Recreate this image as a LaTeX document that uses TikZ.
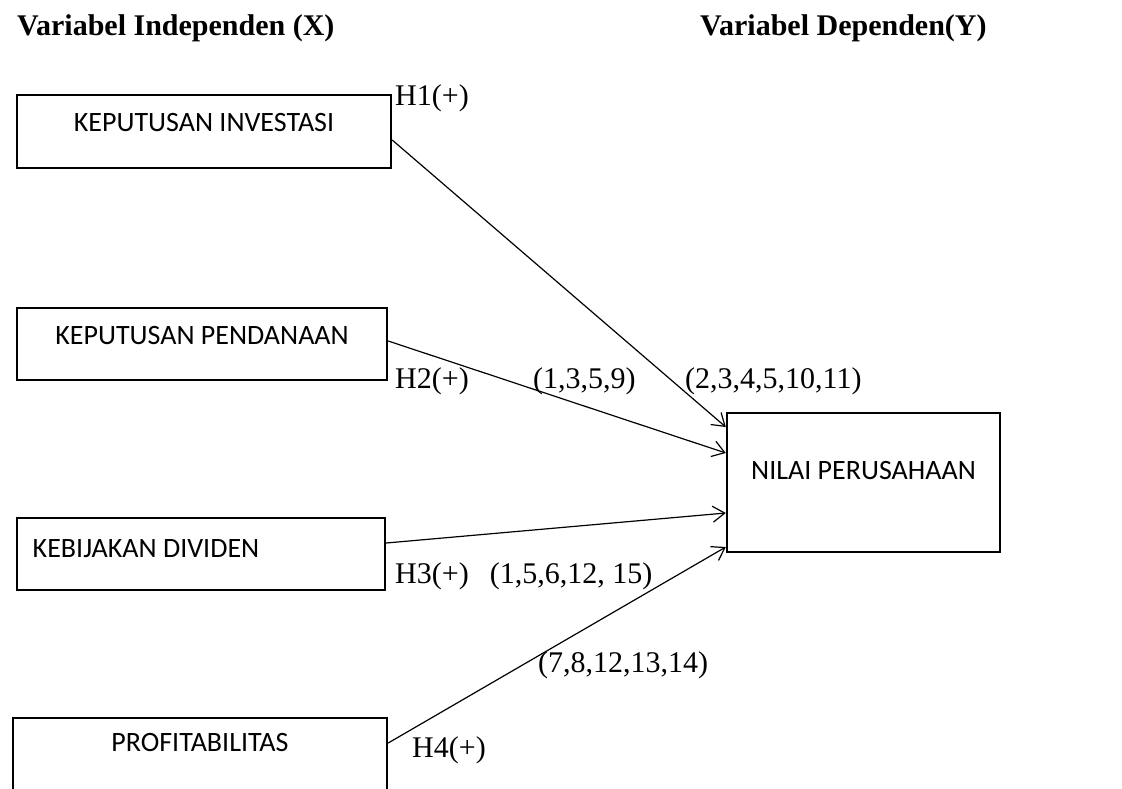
\documentclass[tikz,border=0pt]{standalone}
\usepackage{fontspec}
\setmainfont{Liberation Serif}
\newfontfamily\boxfont{Carlito}
\usetikzlibrary{arrows.meta}
\begin{document}
\begin{tikzpicture}[x=1pt,y=-1pt,
  box/.style={draw, line width=2.4pt, inner sep=0pt},
  boxtext/.style={font=\boxfont\fontsize{28}{32}\selectfont, inner sep=0pt},
  lbl/.style={font=\fontsize{30}{36}\selectfont, inner sep=0pt, anchor=base west},
  hdr/.style={font=\bfseries\fontsize{30}{36}\selectfont, inner sep=0pt, anchor=base west},
  conn/.style={line width=1.2pt, -{Straight Barb[length=12pt,width=16pt,line width=1.2pt]}}]
\useasboundingbox (0,0) rectangle (1122,788);
\clip (0,0) rectangle (1122,788);
\fill[white] (0,0) rectangle (1122,788);

% headers
\node[hdr] (hx) at (17,35) {Variabel Independen (X)};
\node[hdr] (hy) at (700,35) {Variabel Dependen(Y)};

% boxes
\node[box, minimum width=374pt, minimum height=73pt,
  label={[boxtext,yshift=8.5pt]center:KEPUTUSAN INVESTASI}] (b1) at (204,131.5) {};
\node[box, minimum width=370pt, minimum height=72pt,
  label={[boxtext,yshift=8pt]center:KEPUTUSAN PENDANAAN}] (b2) at (202,344) {};
\node[box, minimum width=368pt, minimum height=72pt,
  label={[boxtext,yshift=5pt,xshift=-55pt]center:KEBIJAKAN DIVIDEN}] (b3) at (201,554) {};
\node[box, minimum width=374pt, minimum height=100pt,
  label={[boxtext,yshift=26pt]center:PROFITABILITAS}] (b4) at (200,768) {};
\node[box, minimum width=273pt, minimum height=139pt,
  label={[boxtext,yshift=12pt]center:NILAI PERUSAHAAN}] (n) at (863.5,482.5) {};

% connectors
\draw[conn] ([yshift=-8.5pt]b1.east) -- ([yshift=55.5pt]n.west);
\draw[conn] ([yshift=3pt]b2.east) -- ([yshift=29.5pt]n.west);
\draw[conn] ([yshift=11pt]b3.east) -- ([yshift=-30.5pt]n.west);
\draw[conn] ([yshift=25pt]b4.east) -- ([yshift=-64.5pt]n.west);

% labels
\node[lbl] (h1) at (395,105) {H1(+)};
\node[lbl] (h2) at (395,388) {H2(+)};
\node[lbl] (r2) at (533,388) {(1,3,5,9)};
\node[lbl] (r1) at (685,388) {(2,3,4,5,10,11)};
\node[lbl] (h3) at (395,583) {H3(+)\hspace{21pt}(1,5,6,12, 15)};
\node[lbl] (r4) at (538,672) {(7,8,12,13,14)};
\node[lbl] (h4) at (412,757) {H4(+)};
\end{tikzpicture}
\end{document}
